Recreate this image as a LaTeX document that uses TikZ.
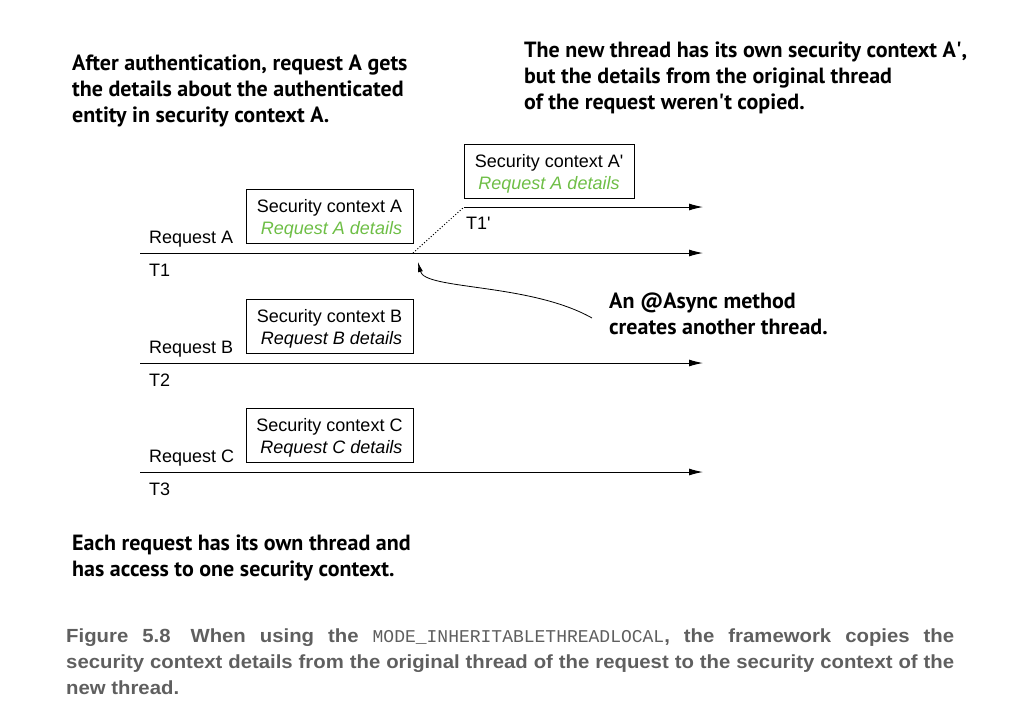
\documentclass[tikz,border=0pt]{standalone}
\usepackage{fontspec}
\setmainfont{Liberation Sans}
\setmonofont{Liberation Mono}
\newfontfamily\notefont{PT Sans}
\newfontfamily\capfont[FakeStretch=1.07]{Liberation Sans Bold}
\usetikzlibrary{arrows.meta}
\definecolor{detailgreen}{RGB}{110,190,70}
\definecolor{captiongray}{RGB}{95,95,95}
\newcommand{\ctxstrut}{\rule{0pt}{19pt}}

\begin{document}
\begin{tikzpicture}[x=1pt, y=-1pt,
    ctxbox/.style={draw, line width=1pt, minimum width=167pt, minimum height=54pt,
      inner sep=0pt, align=right, font=\fontsize{18}{22}\selectfont},
    thread/.style={line width=1pt, -{Latex[length=14pt,width=7pt]}},
    lbl/.style={anchor=base west, inner sep=0pt, font=\fontsize{18}{22}\selectfont},
    note/.style={anchor=north west, inner sep=0pt, align=left,
      font=\notefont\bfseries\fontsize{22}{25.7}\selectfont}]
    \useasboundingbox (0,0) rectangle (1009,726);

    % one thread per request
    \foreach \r/\y/\n/\c in {A/253/1/detailgreen, B/363/2/black, C/472/3/black}{
      \coordinate (t\n s) at (140,\y);
      \coordinate (t\n e) at (703,\y);
      \draw[thread] (t\n s) -- (t\n e);
      \node[lbl] (req\r) at (149,\y-10) {Request \r};
      \node[lbl] (tl\n) at (149,\y+23) {T\n};
      \node[ctxbox] (ctx\r) at (329.5,\y-37)
        {\ctxstrut Security context \r\\ \textcolor{\c}{\itshape Request \r\ details}};
    }

    % the new thread
    \coordinate (fork) at (413,253);
    \coordinate (t4s) at (464,207);
    \coordinate (t4e) at (703,207);
    \draw[thread] (t4s) -- (t4e);
    \draw[dotted, line width=1pt] (fork) -- (t4s);
    \node[lbl] (tl4) at (466,229) {T1\textquotesingle};
    \node[ctxbox, minimum width=170pt, align=center] (ctxAp) at (549,171)
      {\ctxstrut Security context A\textquotesingle\\ \textcolor{detailgreen}{\itshape Request A details}};

    % notes
    \node[note] (noteAuth) at (72,55) {After authentication, request A gets\\the details about the authenticated\\entity in security context A.};
    \node[note] (noteNew) at (524,42) {The new thread has its own security context A\textquotesingle,\\but the details from the original thread\\of the request weren\textquotesingle t copied.};
    \node[note] (noteAsync) at (609,293) {An @Async method\\creates another thread.};
    \node[note] (noteEach) at (72,535) {Each request has its own thread and\\has access to one security context.};

    \coordinate (spawn) at (418,262);
    \draw[line width=0.8pt, -{Latex[length=10pt,width=5pt]}] ([xshift=-17pt,yshift=-25pt]noteAsync.north west)
      .. controls (530,283) and (425,290) .. (spawn);

    % caption
    \node[anchor=north west, inner sep=0pt, text width=888pt, align=justify, text=captiongray,
      font=\capfont\fontsize{19}{26}\selectfont] (caption) at (66,629)
      {Figure 5.8\hspace{20pt}When using the {\ttfamily\fontsize{18}{26}\selectfont MODE\_INHERITABLETHREADLOCAL}, the framework copies the\linebreak
       security context details from the original thread of the request to the security context of the\linebreak
       new thread.};
\end{tikzpicture}
\end{document}
